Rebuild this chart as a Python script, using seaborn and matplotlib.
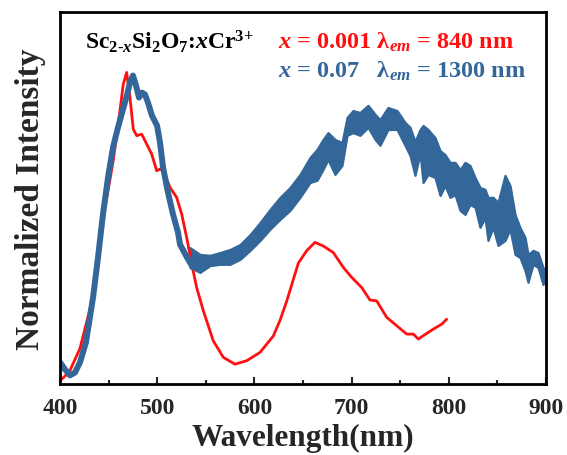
import matplotlib
matplotlib.use("Agg")
import matplotlib.pyplot as plt
import seaborn as sns
import pandas as pd

# ---- data ----
red_wl = [400.0, 405.0, 410.3, 420.6, 434.3, 444.6, 454.8, 461.7, 465.1, 468.6, 472.0, 475.4,
          478.9, 484.0, 489.2, 494.3, 499.5, 502.9, 506.3, 513.2, 520.0, 525.2, 530.3, 535.5,
          540.6, 547.5, 557.7, 568.0, 580.0, 592.0, 605.8, 619.5, 626.3, 633.2, 645.2, 653.8,
          662.3, 670.9, 681.2, 691.5, 700.1, 710.4, 718.9, 725.8, 736.1, 746.4, 756.7, 763.5,
          768.6, 773.8, 784.0, 792.7, 797.8]
red_int = [0.006, 0.020, 0.039, 0.110, 0.280, 0.532, 0.716, 0.877, 0.962, 1.000, 0.919, 0.817,
           0.796, 0.801, 0.769, 0.737, 0.683, 0.688, 0.683, 0.629, 0.597, 0.543, 0.468, 0.382,
           0.306, 0.231, 0.134, 0.081, 0.059, 0.070, 0.097, 0.150, 0.200, 0.262, 0.385, 0.425,
           0.452, 0.440, 0.419, 0.371, 0.339, 0.306, 0.266, 0.263, 0.210, 0.183, 0.156, 0.156,
           0.140, 0.151, 0.172, 0.188, 0.204]

# blue, short-wavelength part (thin trace)
blue_wl = [400.0, 405.1, 410.3, 415.4, 420.6, 426.7, 434.0, 439.1, 444.2, 449.4, 454.5, 459.7,
           464.8, 468.9, 472.0, 475.1, 478.2, 481.3, 484.4, 487.4, 490.5, 494.6, 499.8, 502.9,
           506.0, 511.1, 516.3, 521.4, 523.5, 530.7, 536.8, 544.0]
blue_int = [0.065, 0.042, 0.023, 0.032, 0.065, 0.129, 0.274, 0.403, 0.542, 0.661, 0.758, 0.823,
            0.881, 0.926, 0.968, 0.990, 0.958, 0.919, 0.935, 0.929, 0.903, 0.861, 0.829, 0.774,
            0.694, 0.613, 0.542, 0.484, 0.445, 0.403, 0.371, 0.381]

# blue, noisy long-wavelength part: upper / lower edge of the noise band
blue_band_wl = [533.7, 544.0, 554.3, 564.6, 574.9, 585.2, 595.5, 605.8, 616.0, 626.3, 636.6,
                646.9, 657.2, 664.4, 670.6, 675.7, 682.9, 690.1, 695.3, 701.4, 708.6, 716.9,
                724.1, 729.2, 737.4, 746.7, 754.9, 760.1, 765.2, 770.4, 773.5, 778.6, 785.8,
                791.0, 796.1, 801.2, 806.4, 811.5, 816.7, 821.8, 827.0, 832.1, 837.2, 840.3,
                845.5, 850.6, 857.8, 863.0, 868.1, 873.2, 878.4, 881.5, 886.6, 891.8, 896.9,
                900.0]
blue_band_hi = [0.435, 0.413, 0.410, 0.419, 0.429, 0.445, 0.477, 0.516, 0.558, 0.597, 0.629,
                0.671, 0.726, 0.752, 0.784, 0.806, 0.784, 0.774, 0.855, 0.877, 0.871, 0.894,
                0.865, 0.848, 0.887, 0.877, 0.839, 0.823, 0.777, 0.816, 0.829, 0.816, 0.790,
                0.748, 0.735, 0.710, 0.710, 0.687, 0.710, 0.700, 0.661, 0.629, 0.623, 0.597,
                0.597, 0.581, 0.668, 0.635, 0.542, 0.500, 0.468, 0.413, 0.426, 0.419, 0.371,
                0.361]
blue_band_lo = [0.371, 0.355, 0.377, 0.381, 0.381, 0.397, 0.426, 0.458, 0.494, 0.526, 0.555,
                0.597, 0.645, 0.652, 0.687, 0.719, 0.671, 0.700, 0.797, 0.806, 0.797, 0.823,
                0.784, 0.765, 0.816, 0.816, 0.765, 0.732, 0.668, 0.739, 0.645, 0.671, 0.661,
                0.603, 0.635, 0.597, 0.606, 0.555, 0.542, 0.574, 0.565, 0.500, 0.532, 0.458,
                0.500, 0.442, 0.458, 0.494, 0.413, 0.403, 0.361, 0.323, 0.381, 0.371, 0.316,
                0.339]

x_ticks = [400, 500, 600, 700, 800, 900]
x_minor = [450, 550, 650, 750, 850]

red_color = "#ff1010"
blue_color = "#336699"

# ---- style ----
sns.set_style("white")
plt.rcParams["font.family"] = ["Liberation Serif", "DejaVu Serif"]
plt.rcParams["font.weight"] = "bold"
plt.rcParams["mathtext.fontset"] = "custom"
plt.rcParams["mathtext.rm"] = "Liberation Serif:bold"
plt.rcParams["mathtext.it"] = "Liberation Serif:bold:italic"
plt.rcParams["mathtext.bf"] = "Liberation Serif:bold"

fig = plt.figure(figsize=(5.67, 4.56), dpi=100)
ax = fig.add_axes([0.1058, 0.1557, 0.963 - 0.1058, 0.9715 - 0.1557])

df_red = pd.DataFrame({"wl": red_wl, "I": red_int})
df_blue = pd.DataFrame({"wl": blue_wl, "I": blue_int})
df_band = pd.DataFrame({"wl": blue_band_wl + blue_band_wl,
                        "I": blue_band_hi + blue_band_lo})

sns.lineplot(data=df_red, x="wl", y="I", ax=ax, color=red_color, lw=2.0,
             sort=False, estimator=None)
sns.lineplot(data=df_blue, x="wl", y="I", ax=ax, color=blue_color, lw=4.3,
             sort=False, estimator=None)
sns.lineplot(data=df_band, x="wl", y="I", ax=ax, color=blue_color, lw=1.5,
             estimator="mean", errorbar=("pi", 100),
             err_kws={"alpha": 1.0, "linewidth": 1.6, "edgecolor": blue_color})

ax.set_xlim(400, 900)
ax.set_ylim(-0.005, 1.195)
ax.set_xticks(x_ticks)
ax.set_xticklabels([str(t) for t in x_ticks], fontsize=17, fontweight="bold")
ax.set_xticks(x_minor, minor=True)
ax.tick_params(axis="x", which="major", direction="in", length=5, width=1.5, pad=9, bottom=True)
ax.tick_params(axis="x", which="minor", direction="in", length=3, width=1.5, bottom=True)
ax.set_yticks([])
for s in ax.spines.values():
    s.set_linewidth(2)
    s.set_color("black")

ax.set_xlabel("Wavelength(nm)", fontsize=22.5, fontweight="bold", labelpad=4)
ax.set_ylabel("Normalized Intensity", fontsize=24, fontweight="bold", labelpad=10)

ax.text(0.051, 0.922, r"Sc$_{2\text{-}x}$Si$_{2}$O$_{7}$:$x$Cr$^{\text{3+}}$",
        transform=ax.transAxes, fontsize=17, fontweight="bold", color="black", va="center")
ax.text(0.449, 0.922, r"$x$ = 0.001 λ$_{em}$ = 840 nm",
        transform=ax.transAxes, fontsize=17.5, fontweight="bold", color=red_color, va="center")
ax.text(0.449, 0.844, r"$x$ = 0.07   λ$_{em}$ = 1300 nm",
        transform=ax.transAxes, fontsize=17.5, fontweight="bold", color=blue_color, va="center")

fig.savefig("out.png", dpi=100)
